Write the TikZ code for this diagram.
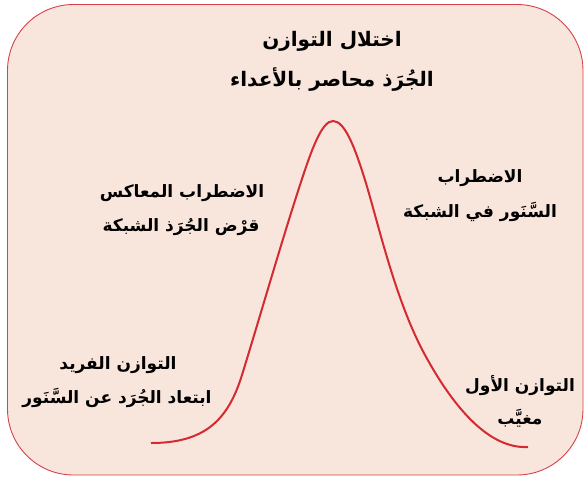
\documentclass[tikz,border=0pt]{standalone}
\usepackage{fontspec}
\TeXXeTstate=1
\newfontfamily\arabicfont[Script=Arabic]{DejaVu Sans}
\definecolor{bgpink}{HTML}{F8E5DC}
\definecolor{framered}{HTML}{D8404A}
\definecolor{curvered}{HTML}{D42A30}
\tikzset{
  lbl/.style={font=\arabicfont\bfseries\fontsize{17}{20}\selectfont, text=black, inner sep=0pt, anchor=center},
  toplbl/.style={lbl, font=\arabicfont\bfseries\fontsize{20}{24}\selectfont},
}
\newcommand{\ar}[1]{\beginR #1\endR}
\begin{document}
\begin{tikzpicture}[x=1pt,y=-1pt]
\useasboundingbox (0,0) rectangle (584,480);
\draw[framered, fill=bgpink, line width=0.9pt, rounded corners=66pt] (7.5,4.5) rectangle (583,475);
\draw[curvered, line width=2pt]
  (151,443) .. controls (205,443) and (228,420) .. (242,375)
  .. controls (262,310) and (282,240) .. (300,185)
  .. controls (312,148) and (322,121) .. (333,121)
  .. controls (345,121) and (355,148) .. (365,180)
  .. controls (378,222) and (395,300) .. (425,355)
  .. controls (455,410) and (490,449) .. (528,447);
\node[toplbl] (t1) at (332,41) {\ar{اختلال التوازن}};
\node[toplbl] (t2) at (332,79) {\ar{الجُرَذ محاصر بالأعداء}};
\node[lbl] (l1) at (182,193) {\ar{الاضطراب المعاكس}};
\node[lbl] (l2) at (181,227) {\ar{قرْض الجُرَذ الشبكة}};
\node[lbl] (r1) at (480,178) {\ar{الاضطراب}};
\node[lbl] (r2) at (480,212) {\ar{السَّنَور في الشبكة}};
\node[lbl] (b1) at (118,365) {\ar{التوازن الفريد}};
\node[lbl] (b2) at (117,398) {\ar{ابتعاد الجُرَد عن السَّنَور}};
\node[lbl] (e1) at (520,386) {\ar{التوازن الأول}};
\node[lbl] (e2) at (520,418) {\ar{مغيَّب}};
\end{tikzpicture}
\end{document}
